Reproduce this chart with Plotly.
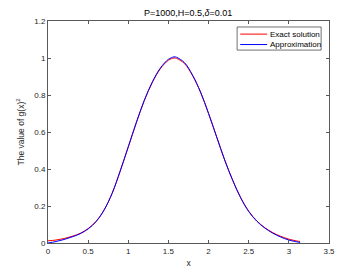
import plotly.graph_objects as go

x_exact = [0.0, 0.1, 0.2, 0.3, 0.4, 0.5, 0.6, 0.7, 0.8, 0.9, 1.0, 1.1, 1.2, 1.3, 1.4, 1.5, 1.57,
           1.6, 1.7, 1.8, 1.9, 2.0, 2.1, 2.2, 2.3, 2.4, 2.5, 2.6, 2.7, 2.8, 2.9, 3.0, 3.1, 3.14]
y_exact = [0.012, 0.016, 0.024, 0.036, 0.052, 0.078, 0.118, 0.18, 0.27, 0.39, 0.52, 0.65, 0.77,
           0.868, 0.942, 0.988, 1.0, 0.998, 0.97, 0.905, 0.815, 0.70, 0.575, 0.45, 0.34, 0.245,
           0.172, 0.12, 0.083, 0.056, 0.036, 0.021, 0.011, 0.008]

x_approx = [0.0, 0.1, 0.2, 0.3, 0.4, 0.5, 0.6, 0.7, 0.8, 0.9, 1.0, 1.1, 1.2, 1.3, 1.4, 1.5, 1.57,
            1.6, 1.7, 1.8, 1.9, 2.0, 2.1, 2.2, 2.3, 2.4, 2.5, 2.6, 2.7, 2.8, 2.9, 3.0, 3.1, 3.14]
y_approx = [0.0, 0.008, 0.019, 0.033, 0.05, 0.076, 0.116, 0.179, 0.27, 0.39, 0.52, 0.651, 0.772,
            0.871, 0.946, 0.993, 1.006, 1.004, 0.975, 0.908, 0.816, 0.70, 0.574, 0.449, 0.339,
            0.244, 0.17, 0.118, 0.081, 0.053, 0.032, 0.016, 0.006, 0.003]

x_ticks = [0, 0.5, 1, 1.5, 2, 2.5, 3, 3.5]
x_tick_labels = ["0", "0.5", "1", "1.5", "2", "2.5", "3", "3.5"]
y_ticks = [0, 0.2, 0.4, 0.6, 0.8, 1, 1.2]
y_tick_labels = ["0", "0.2", "0.4", "0.6", "0.8", "1", "1.2"]
legend_names = ["Exact solution", "Approximation"]
legend_colors = ["#ff0000", "#0000ff"]

font_family = "Liberation Sans, Arial, sans-serif"
axis_color = "#595959"

fig = go.Figure()
fig.add_trace(go.Scatter(x=x_exact, y=y_exact, mode="lines", name=legend_names[0],
                         line=dict(color=legend_colors[0], width=1, shape="spline", smoothing=1)))
fig.add_trace(go.Scatter(x=x_approx, y=y_approx, mode="lines", name=legend_names[1],
                         line=dict(color=legend_colors[1], width=1, shape="spline", smoothing=1)))

axis_common = dict(showgrid=False, zeroline=False, showline=True, linecolor=axis_color, linewidth=1,
                   mirror="allticks", ticks="inside", ticklen=3, tickcolor=axis_color,
                   automargin=False,
                   tickfont=dict(family=font_family, size=8, color="#262626"))

# custom MATLAB-like legend box
shapes = [dict(type="rect", xref="paper", yref="paper", x0=0.673, x1=0.972, y0=0.869, y1=0.973,
               line=dict(color="#4d4d4d", width=0.8), fillcolor="white", layer="above")]
annotations = []
legend_y = [0.941, 0.894]
for name, color, ly in zip(legend_names, legend_colors, legend_y):
    shapes.append(dict(type="line", xref="paper", yref="paper", x0=0.684, x1=0.780, y0=ly, y1=ly,
                       line=dict(color=color, width=1), layer="above"))
    annotations.append(dict(text=name, xref="paper", yref="paper", x=0.783, y=ly, xanchor="left",
                            yanchor="middle", showarrow=False,
                            font=dict(family=font_family, size=8, color="#000000")))

fig.update_layout(
    width=364, height=273,
    paper_bgcolor="white", plot_bgcolor="white",
    margin=dict(l=47.5, r=35, t=21, b=30),
    title=dict(text="P=1000,H=0.5,<i>δ</i>=0.01", x=0.517, xanchor="center", y=0.952, yanchor="middle",
               font=dict(family=font_family, size=9, color="#000000")),
    xaxis=dict(range=[0, 3.5], tickvals=x_ticks, ticktext=x_tick_labels,
               title=dict(text="x", font=dict(family=font_family, size=8.5, color="#262626"), standoff=5),
               **axis_common),
    yaxis=dict(range=[0, 1.2], tickvals=y_ticks, ticktext=y_tick_labels,
               title=dict(text="The value of g(x)<sup>2</sup>", font=dict(family=font_family, size=8.5, color="#262626"), standoff=8),
               **axis_common),
    shapes=shapes,
    annotations=annotations,
    showlegend=False,
)

fig.write_html("out.html", config={"displayModeBar": False},
               post_script="document.body.style.margin='0';document.body.style.overflow='hidden';")
